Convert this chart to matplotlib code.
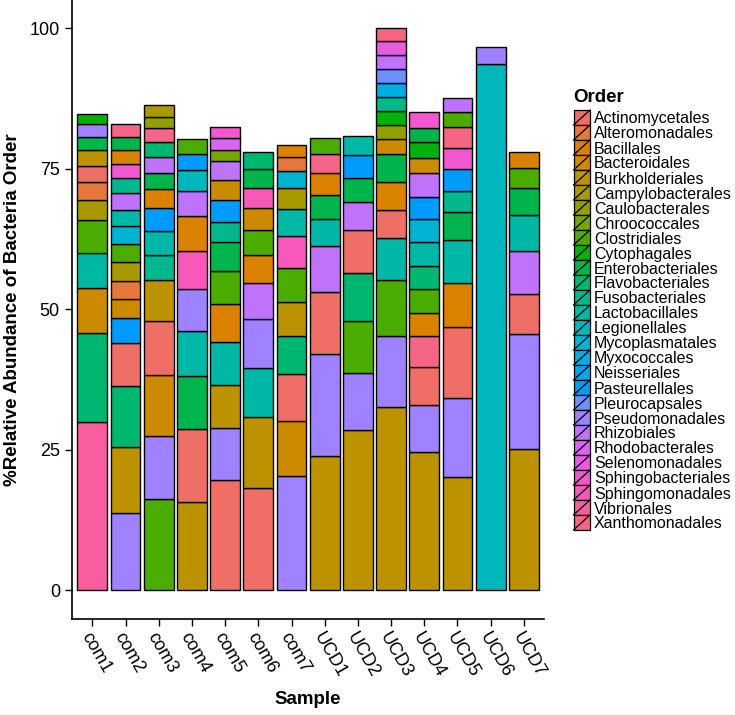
import numpy as np
import matplotlib
matplotlib.use("Agg")
import matplotlib.pyplot as plt
from matplotlib.patches import Rectangle
from matplotlib.lines import Line2D

plt.rcParams['font.family'] = ['Liberation Sans', 'DejaVu Sans']

samples = ["com1", "com2", "com3", "com4", "com5", "com6", "com7",
           "UCD1", "UCD2", "UCD3", "UCD4", "UCD5", "UCD6", "UCD7"]

orders = ["Actinomycetales", "Alteromonadales", "Bacillales", "Bacteroidales",
          "Burkholderiales", "Campylobacterales", "Caulobacterales", "Chroococcales",
          "Clostridiales", "Cytophagales", "Enterobacteriales", "Flavobacteriales",
          "Fusobacteriales", "Lactobacillales", "Legionellales", "Mycoplasmatales",
          "Myxococcales", "Neisseriales", "Pasteurellales", "Pleurocapsales",
          "Pseudomonadales", "Rhizobiales", "Rhodobacterales", "Selenomonadales",
          "Sphingobacteriales", "Sphingomonadales", "Vibrionales", "Xanthomonadales"]

# segments of each bar, bottom to top (order, % abundance)
com1 = [("Vibrionales", 29.9), ("Flavobacteriales", 15.8), ("Bacteroidales", 8.1),
        ("Lactobacillales", 6.2), ("Clostridiales", 5.9), ("Campylobacterales", 3.5),
        ("Alteromonadales", 3.2), ("Actinomycetales", 2.9), ("Burkholderiales", 2.8),
        ("Enterobacteriales", 2.4), ("Pseudomonadales", 2.2), ("Cytophagales", 1.9)]
com2 = [("Pseudomonadales", 13.8), ("Burkholderiales", 11.8), ("Flavobacteriales", 10.8),
        ("Actinomycetales", 7.6), ("Pasteurellales", 4.4), ("Bacteroidales", 3.5),
        ("Alteromonadales", 3.2), ("Campylobacterales", 3.3), ("Clostridiales", 3.2),
        ("Mycoplasmatales", 3.2), ("Lactobacillales", 2.9), ("Rhizobiales", 2.9),
        ("Fusobacteriales", 2.7), ("Sphingobacteriales", 2.5), ("Bacillales", 2.5),
        ("Enterobacteriales", 2.4), ("Xanthomonadales", 2.3)]
com3 = [("Clostridiales", 16.3), ("Pseudomonadales", 11.2), ("Bacteroidales", 10.8),
        ("Actinomycetales", 9.7), ("Burkholderiales", 7.2), ("Fusobacteriales", 4.5),
        ("Lactobacillales", 4.3), ("Pasteurellales", 4.0), ("Bacillales", 3.4),
        ("Enterobacteriales", 2.8), ("Rhizobiales", 2.9), ("Flavobacteriales", 2.7),
        ("Xanthomonadales", 2.4), ("Caulobacterales", 2.0), ("Campylobacterales", 2.2)]
com4 = [("Burkholderiales", 15.7), ("Actinomycetales", 13.0), ("Enterobacteriales", 9.5),
        ("Lactobacillales", 8.0), ("Pseudomonadales", 7.4), ("Sphingomonadales", 6.7),
        ("Bacillales", 6.3), ("Rhizobiales", 4.4), ("Legionellales", 3.8),
        ("Pasteurellales", 2.9), ("Clostridiales", 2.5)]
com5 = [("Actinomycetales", 19.7), ("Pseudomonadales", 9.2), ("Burkholderiales", 7.7),
        ("Lactobacillales", 7.5), ("Bacillales", 6.8), ("Clostridiales", 5.9),
        ("Enterobacteriales", 5.1), ("Fusobacteriales", 3.7), ("Pasteurellales", 3.8),
        ("Bacteroidales", 3.6), ("Rhizobiales", 3.3), ("Chroococcales", 2.0),
        ("Rhodobacterales", 2.1), ("Sphingobacteriales", 2.1)]
com6 = [("Actinomycetales", 18.2), ("Burkholderiales", 12.6), ("Lactobacillales", 8.7),
        ("Pseudomonadales", 8.8), ("Rhizobiales", 6.3), ("Bacillales", 5.1),
        ("Clostridiales", 4.4), ("Bacteroidales", 3.9), ("Sphingomonadales", 3.5),
        ("Enterobacteriales", 3.4), ("Flavobacteriales", 3.1)]
com7 = [("Pseudomonadales", 20.4), ("Bacteroidales", 9.7), ("Actinomycetales", 8.4),
        ("Flavobacteriales", 6.8), ("Burkholderiales", 6.0), ("Clostridiales", 6.0),
        ("Sphingomonadales", 5.7), ("Lactobacillales", 4.8), ("Campylobacterales", 3.8),
        ("Mycoplasmatales", 3.0), ("Alteromonadales", 2.4), ("Bacillales", 2.3)]
UCD1 = [("Burkholderiales", 24.0), ("Pseudomonadales", 18.0), ("Actinomycetales", 11.1),
        ("Rhizobiales", 8.2), ("Lactobacillales", 4.8), ("Enterobacteriales", 4.2),
        ("Bacillales", 3.9), ("Xanthomonadales", 3.4), ("Clostridiales", 2.8)]
UCD2 = [("Burkholderiales", 28.5), ("Pseudomonadales", 10.1), ("Clostridiales", 9.3),
        ("Flavobacteriales", 8.6), ("Actinomycetales", 7.6), ("Rhizobiales", 5.0),
        ("Enterobacteriales", 4.2), ("Pasteurellales", 4.1), ("Lactobacillales", 3.4)]
UCD3 = [("Burkholderiales", 32.6), ("Pseudomonadales", 12.6), ("Clostridiales", 10.0),
        ("Lactobacillales", 7.5), ("Actinomycetales", 4.9), ("Bacillales", 5.1),
        ("Enterobacteriales", 5.0), ("Bacteroidales", 2.5), ("Caulobacterales", 2.5),
        ("Cytophagales", 2.6), ("Fusobacteriales", 2.4), ("Myxococcales", 2.5),
        ("Pleurocapsales", 2.5), ("Rhizobiales", 2.5), ("Selenomonadales", 2.5),
        ("Xanthomonadales", 2.3)]
UCD4 = [("Burkholderiales", 24.7), ("Pseudomonadales", 8.3), ("Actinomycetales", 6.8),
        ("Xanthomonadales", 5.5), ("Bacillales", 4.1), ("Clostridiales", 4.2),
        ("Flavobacteriales", 4.1), ("Lactobacillales", 4.2), ("Mycoplasmatales", 4.1),
        ("Pasteurellales", 4.0), ("Rhizobiales", 4.2), ("Bacteroidales", 2.7),
        ("Cytophagales", 2.8), ("Enterobacteriales", 2.6), ("Sphingobacteriales", 2.7)]
UCD5 = [("Burkholderiales", 20.2), ("Pseudomonadales", 14.0), ("Actinomycetales", 12.7),
        ("Bacillales", 7.7), ("Lactobacillales", 7.7), ("Enterobacteriales", 5.0),
        ("Fusobacteriales", 3.8), ("Pasteurellales", 3.8), ("Sphingobacteriales", 3.7),
        ("Xanthomonadales", 3.8), ("Clostridiales", 2.6), ("Rhizobiales", 2.5)]
UCD6 = [("Legionellales", 93.7), ("Pseudomonadales", 3.0)]
UCD7 = [("Burkholderiales", 25.1), ("Pseudomonadales", 20.5), ("Actinomycetales", 7.2),
        ("Rhizobiales", 7.6), ("Lactobacillales", 6.4), ("Enterobacteriales", 4.7),
        ("Clostridiales", 3.7), ("Bacillales", 2.8)]

stacks = [com1, com2, com3, com4, com5, com6, com7,
          UCD1, UCD2, UCD3, UCD4, UCD5, UCD6, UCD7]


def hcl_hex(h, c=100.0, l=62.0):
    # polar LUV -> sRGB, like R's hcl()
    hr = np.deg2rad(h)
    u, v = c * np.cos(hr), c * np.sin(hr)
    Xn, Yn, Zn = 95.047, 100.0, 108.883
    un = 4 * Xn / (Xn + 15 * Yn + 3 * Zn)
    vn = 9 * Yn / (Xn + 15 * Yn + 3 * Zn)
    Y = Yn * ((l + 16) / 116) ** 3
    up = u / (13 * l) + un
    vp = v / (13 * l) + vn
    X = Y * 9 * up / (4 * vp)
    Z = Y * (12 - 3 * up - 20 * vp) / (4 * vp)
    M = np.array([[3.2404542, -1.5371385, -0.4985314],
                  [-0.9692660, 1.8760108, 0.0415560],
                  [0.0556434, -0.2040259, 1.0572252]])
    rgb = np.clip(M @ np.array([X, Y, Z]) / 100, 0, 1)
    rgb = np.where(rgb <= 0.0031308, 12.92 * rgb, 1.055 * rgb ** (1 / 2.4) - 0.055)
    return tuple(np.clip(rgb, 0, 1))


colors = {name: hcl_hex((15 + 360 / len(orders) * i) % 360) for i, name in enumerate(orders)}

W, H = 735, 715
fig = plt.figure(figsize=(W / 100, H / 100), dpi=100)
ax = fig.add_axes([72.4 / W, 1 - 618.6 / H, (543.8 - 72.4) / W, 618.6 / H])

for i, stack in enumerate(stacks):
    bottom = 0.0
    for name, val in stack:
        ax.bar(i, val, bottom=bottom, width=0.9, color=colors[name],
               edgecolor='black', linewidth=1.0)
        bottom += val

ax.set_xlim(-0.6, len(samples) - 0.4)
ax.set_ylim(-5, 105)
ax.set_yticks([0, 25, 50, 75, 100])
ax.set_xticks(range(len(samples)))
ax.set_xticklabels(samples, rotation=-60, ha='left', va='top', rotation_mode='anchor')
ax.tick_params(axis='both', labelsize=13, length=5, width=1.0, color='black',
               labelcolor='black', direction='out')
ax.tick_params(axis='x', pad=3)
ax.tick_params(axis='y', pad=4)
for s in ['top', 'right']:
    ax.spines[s].set_visible(False)
for s in ['left', 'bottom']:
    ax.spines[s].set_linewidth(1.2)
    ax.spines[s].set_color('black')

ax.set_xlabel("Sample", fontsize=13.5, fontweight='bold')
ax.set_ylabel("%Relative Abundance of Bacteria Order", fontsize=13.5, fontweight='bold')
ax.xaxis.set_label_coords((307.5 - 72.4) / (543.8 - 72.4), -(691 - 618.6) / 618.6)
ax.yaxis.set_label_coords(-(72.4 - 21) / (543.8 - 72.4), 0.5)


# legend drawn in figure pixels
def fx(x):
    return x / W


def fy(y):
    return 1 - y / H


fig.text(fx(573), fy(97), "Order", fontsize=13.5, fontweight='bold', ha='left', va='center')
for i, name in enumerate(orders):
    top = 110 + 15 * i
    fig.add_artist(Rectangle((fx(573.5), fy(top + 15)), 16.5 / W, 15 / H,
                             transform=fig.transFigure, facecolor=colors[name],
                             edgecolor='black', linewidth=0.9))
    fig.add_artist(Line2D([fx(573.5), fx(590)], [fy(top + 15), fy(top)],
                          transform=fig.transFigure, color='black', linewidth=0.9))
    fig.text(fx(594), fy(top + 7.5), name, fontsize=11.5, ha='left', va='center_baseline')

fig.savefig("out.png", dpi=100)
